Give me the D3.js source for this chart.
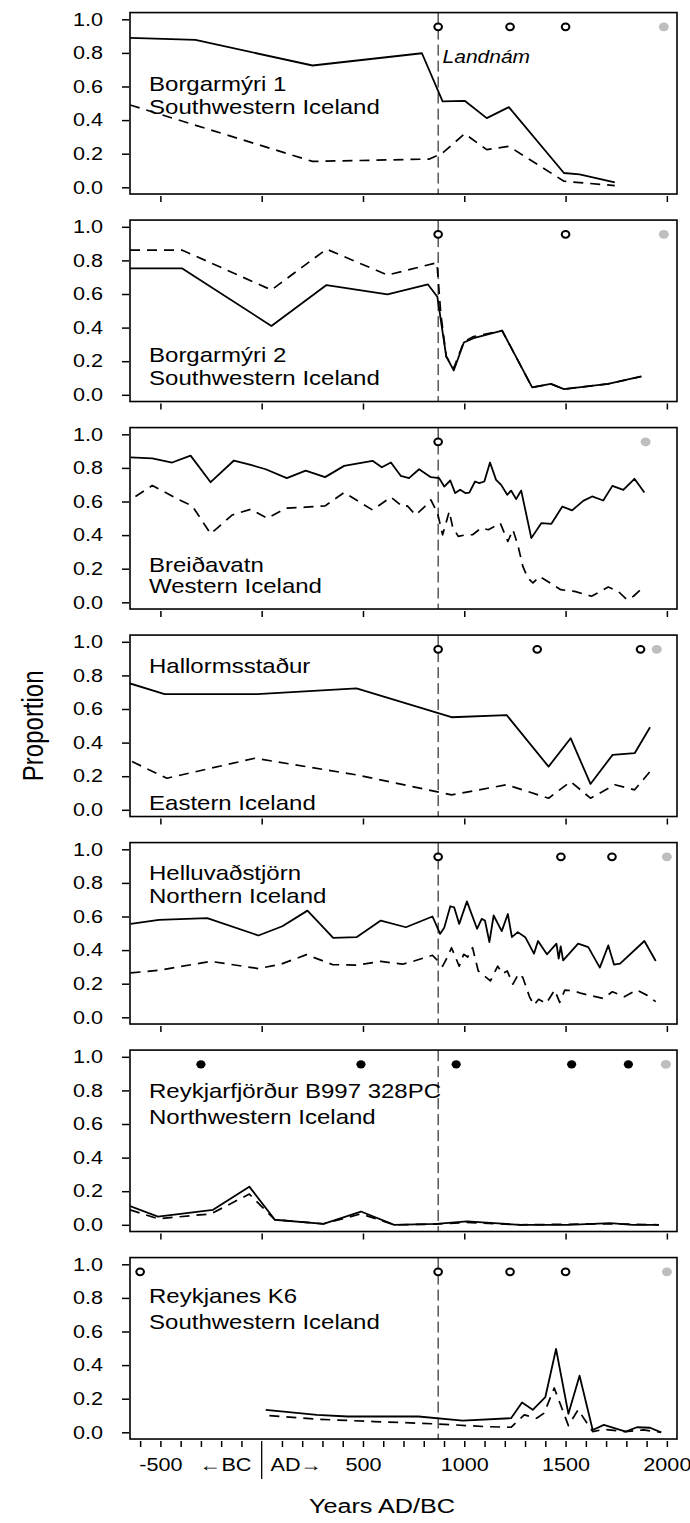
<!DOCTYPE html>
<html>
<head>
<meta charset="utf-8">
<script src="https://cdn.jsdelivr.net/npm/d3@7"></script>
<style>
  html, body { margin: 0; padding: 0; background: #ffffff; }
  svg text { font-family: "Liberation Sans", Arial, "DejaVu Sans", sans-serif; fill: #000; }
</style>
</head>
<body>
<svg id="chart" width="690" height="1523"></svg>
<script>
// ---------------- DATA ----------------
const yTicks = [0, 0.2, 0.4, 0.6, 0.8, 1.0];
const xMajorTicks = [-500, 0, 500, 1000, 1500, 2000];
const xLabelTicks = [-500, 500, 1000, 1500, 2000];
const landnamYear = 871;
const markerLevel = 0.955;

const siteNames = ["Borgarmýri 1", "Borgarmýri 2", "Breiðavatn", "Hallormsstaður",
                   "Helluvaðstjörn", "Reykjarfjörður B997 328PC", "Reykjanes K6"];
const siteRegions = ["Southwestern Iceland", "Southwestern Iceland", "Western Iceland",
                     "Eastern Iceland", "Northern Iceland", "Northwestern Iceland", "Southwestern Iceland"];

// Borgarmýri 1
const borg1SolidYears = [-650, -327, 251, 791, 893, 1002, 1111, 1220, 1492, 1569, 1743];
const borg1SolidValues = [0.89, 0.877, 0.725, 0.798, 0.511, 0.515, 0.412, 0.477, 0.085, 0.077, 0.03];
const borg1DashYears = [-650, 251, 828, 893, 1002, 1111, 1220, 1492, 1743];
const borg1DashValues = [0.49, 0.154, 0.168, 0.204, 0.319, 0.224, 0.244, 0.036, 0.01];

// Borgarmýri 2
const borg2SolidYears = [-650, -392, 48, 320, 621, 821, 867, 911, 948, 998, 1046, 1187, 1335, 1427, 1492, 1710, 1874];
const borg2SolidValues = [0.752, 0.752, 0.41, 0.653, 0.598, 0.657, 0.584, 0.228, 0.145, 0.311, 0.337, 0.382, 0.044, 0.065, 0.034, 0.065, 0.109];
const borg2DashYears = [-650, -392, 48, 320, 621, 865, 884, 911, 948, 998, 1046, 1187, 1335, 1427, 1492, 1710, 1874];
const borg2DashValues = [0.861, 0.861, 0.624, 0.867, 0.713, 0.786, 0.485, 0.228, 0.158, 0.317, 0.347, 0.382, 0.044, 0.065, 0.034, 0.065, 0.109];

// Breiðavatn
const breidSolidYears = [-647, -540, -442, -351, -252, -137, -54, 20, 124, 217, 313, 407, 547, 593, 638, 687,
  727, 777, 835, 876, 901, 931, 955, 980, 1005, 1025, 1053, 1074, 1099, 1127, 1157, 1182, 1212, 1231, 1256,
  1281, 1331, 1380, 1430, 1484, 1532, 1587, 1631, 1686, 1731, 1785, 1840, 1889];
const breidSolidValues = [0.863, 0.857, 0.832, 0.873, 0.715, 0.844, 0.818, 0.792, 0.739, 0.784, 0.745, 0.812,
  0.842, 0.804, 0.832, 0.752, 0.739, 0.792, 0.745, 0.739, 0.689, 0.725, 0.65, 0.67, 0.65, 0.653, 0.719, 0.709,
  0.719, 0.832, 0.729, 0.699, 0.64, 0.665, 0.614, 0.665, 0.382, 0.471, 0.467, 0.57, 0.547, 0.604, 0.63, 0.606,
  0.693, 0.669, 0.735, 0.653];
const breidDashYears = [-623, -540, -408, -343, -252, -145, -54, 28, 119, 217, 313, 407, 547, 638, 695, 719,
  760, 802, 835, 868, 893, 926, 942, 970, 1008, 1041, 1083, 1119, 1178, 1215, 1240, 1264, 1289, 1314, 1339,
  1372, 1430, 1476, 1545, 1628, 1711, 1760, 1802, 1835, 1889];
const breidDashValues = [0.63, 0.695, 0.61, 0.574, 0.408, 0.52, 0.554, 0.50, 0.56, 0.566, 0.574, 0.653, 0.55,
  0.626, 0.57, 0.574, 0.52, 0.566, 0.61, 0.531, 0.402, 0.541, 0.451, 0.392, 0.402, 0.402, 0.442, 0.432, 0.471,
  0.362, 0.432, 0.343, 0.214, 0.145, 0.115, 0.154, 0.111, 0.075, 0.065, 0.036, 0.091, 0.065, 0.016, 0.036, 0.095];

// Hallormsstaður
const hallSolidYears = [-650, -479, -22, 468, 937, 1209, 1416, 1525, 1623, 1732, 1841, 1917];
const hallSolidValues = [0.752, 0.689, 0.689, 0.723, 0.551, 0.564, 0.257, 0.426, 0.154, 0.327, 0.337, 0.491];
const hallDashYears = [-640, -468, -33, 468, 937, 1209, 1416, 1525, 1623, 1743, 1841, 1917];
const hallDashValues = [0.287, 0.188, 0.307, 0.208, 0.089, 0.149, 0.069, 0.168, 0.069, 0.149, 0.119, 0.228];

// Helluvaðstjörn
const hellSolidYears = [-647, -507, -269, -16, 102, 226, 353, 468, 588, 712, 843, 881, 901, 931, 950, 975,
  1013, 1063, 1086, 1102, 1124, 1145, 1185, 1215, 1235, 1264, 1301, 1344, 1364, 1408, 1455, 1466, 1476, 1488,
  1562, 1612, 1669, 1711, 1739, 1769, 1889, 1945];
const hellSolidValues = [0.556, 0.58, 0.59, 0.487, 0.542, 0.635, 0.473, 0.477, 0.576, 0.536, 0.60, 0.497,
  0.533, 0.661, 0.655, 0.556, 0.69, 0.527, 0.586, 0.576, 0.448, 0.606, 0.513, 0.615, 0.477, 0.507, 0.477,
  0.379, 0.454, 0.375, 0.438, 0.349, 0.422, 0.339, 0.438, 0.418, 0.296, 0.428, 0.314, 0.32, 0.454, 0.335];
const hellDashYears = [-647, -507, -252, -16, 94, 221, 349, 465, 588, 695, 752, 843, 871, 893, 917, 937, 975,
  997, 1017, 1041, 1069, 1129, 1165, 1190, 1212, 1240, 1268, 1289, 1322, 1344, 1367, 1405, 1446, 1471, 1496,
  1537, 1579, 1686, 1731, 1790, 1851, 1901, 1945];
const hellDashValues = [0.264, 0.28, 0.333, 0.29, 0.316, 0.373, 0.314, 0.31, 0.333, 0.316, 0.335, 0.369,
  0.335, 0.304, 0.359, 0.414, 0.304, 0.375, 0.359, 0.414, 0.276, 0.217, 0.304, 0.26, 0.276, 0.197, 0.26,
  0.237, 0.122, 0.073, 0.107, 0.083, 0.162, 0.089, 0.162, 0.158, 0.142, 0.112, 0.152, 0.122, 0.162, 0.132, 0.093];

// Reykjarfjörður B997 328PC
const reykfSolidYears = [-650, -512, -240, -61, 65, 305, 490, 654, 861, 1013, 1275, 1514, 1721, 1830, 1961];
const reykfSolidValues = [0.112, 0.049, 0.089, 0.227, 0.03, 0.006, 0.079, 0.0, 0.006, 0.02, 0.0, 0.0, 0.01, 0.0, 0.0];
const reykfDashYears = [-650, -512, -251, -61, 65, 305, 490, 654, 861, 1013, 1275, 1721, 1961];
const reykfDashValues = [0.089, 0.036, 0.065, 0.183, 0.03, 0.006, 0.065, 0.0, 0.004, 0.014, 0.0, 0.006, 0.0];

// Reykjanes K6
const reykSolidYears = [20, 272, 425, 774, 992, 1231, 1285, 1338, 1400, 1453, 1514, 1569, 1634, 1689, 1797, 1852, 1917, 1972];
const reykSolidValues = [0.134, 0.104, 0.094, 0.094, 0.07, 0.084, 0.177, 0.134, 0.209, 0.496, 0.11, 0.337, 0.014, 0.044, 0.004, 0.03, 0.027, 0.0];
const reykDashYears = [38, 272, 556, 861, 1100, 1231, 1296, 1357, 1394, 1444, 1514, 1562, 1634, 1689, 1797, 1884, 1972];
const reykDashValues = [0.099, 0.078, 0.064, 0.05, 0.034, 0.03, 0.104, 0.084, 0.114, 0.264, 0.04, 0.134, 0.004, 0.018, 0.004, 0.014, 0.0];

// Dated horizons (open = tephra, filled = other dates, gray = core top)
const openMarkers = [[871, 1226, 1500], [871, 1500], [871], [871, 1360, 1870], [871, 1477, 1729], [], [-600, 871, 1226, 1500]];
const filledMarkers = [[], [], [], [], [], [-300, 490, 960, 1530, 1810], []];
const grayMarkers = [[1985], [1985], [1895], [1950], [2000], [1995], [2000]];

// ---------------- LAYOUT ----------------
const SX = 1.2;                       // horizontal text stretch of the original figure
const X0 = 130, X1 = 677;
const UNIT = 168;
const TOP0 = 19.3 - 0.04 * UNIT, PITCH = 207.5, PH = 1.08 * UNIT;
const labelLevels = [[0.576, 0.438], [0.194, 0.059], [0.181, 0.056], [0.812, 0.0],
                     [0.818, 0.683], [0.755, 0.600], [0.771, 0.612]];

const solidSeries = [[borg1SolidYears, borg1SolidValues], [borg2SolidYears, borg2SolidValues],
  [breidSolidYears, breidSolidValues], [hallSolidYears, hallSolidValues], [hellSolidYears, hellSolidValues],
  [reykfSolidYears, reykfSolidValues], [reykSolidYears, reykSolidValues]];
const dashSeries = [[borg1DashYears, borg1DashValues], [borg2DashYears, borg2DashValues],
  [breidDashYears, breidDashValues], [hallDashYears, hallDashValues], [hellDashYears, hellDashValues],
  [reykfDashYears, reykfDashValues], [reykDashYears, reykDashValues]];

const svg = d3.select("#chart");
const x = d3.scaleLinear().domain([-650, 2050]).range([X0, X1]);

const nPanels = siteNames.length;
let lastBottom = 0;
for (let i = 0; i < nPanels; i++) {
  const top = TOP0 + PITCH * i, bottom = top + PH;
  lastBottom = bottom;
  const y = d3.scaleLinear().domain([-0.04, 1.04]).range([bottom, top]);
  const g = svg.append("g");

  const clipId = "clip" + i;
  g.append("clipPath").attr("id", clipId).append("rect")
    .attr("x", X0).attr("y", top).attr("width", X1 - X0).attr("height", PH);
  const inner = g.append("g").attr("clip-path", `url(#${clipId})`);

  // Landnám line
  inner.append("line")
    .attr("x1", x(landnamYear)).attr("x2", x(landnamYear))
    .attr("y1", top).attr("y2", bottom)
    .attr("stroke", "#000").attr("stroke-width", 1).attr("stroke-dasharray", "11,5");

  const line = d3.line().x(d => x(d[0])).y(d => y(d[1]));
  inner.append("path").datum(d3.zip(dashSeries[i][0], dashSeries[i][1]))
    .attr("d", line).attr("fill", "none").attr("stroke", "#000")
    .attr("stroke-width", 1.7).attr("stroke-dasharray", "10,7").attr("stroke-linejoin", "round");
  inner.append("path").datum(d3.zip(solidSeries[i][0], solidSeries[i][1]))
    .attr("d", line).attr("fill", "none").attr("stroke", "#000")
    .attr("stroke-width", 1.8).attr("stroke-linejoin", "round");

  // markers
  inner.selectAll(".open").data(openMarkers[i]).join("ellipse")
    .attr("cx", d => x(d)).attr("cy", y(markerLevel)).attr("rx", 3.8).attr("ry", 3.4)
    .attr("fill", "#fff").attr("stroke", "#000").attr("stroke-width", 2.1);
  inner.selectAll(".filled").data(filledMarkers[i]).join("ellipse")
    .attr("cx", d => x(d)).attr("cy", y(markerLevel)).attr("rx", 4.6).attr("ry", 4.2)
    .attr("fill", "#000");
  inner.selectAll(".gray").data(grayMarkers[i]).join("ellipse")
    .attr("cx", d => x(d)).attr("cy", y(markerLevel)).attr("rx", 5.0).attr("ry", 4.4)
    .attr("fill", "#bebebe");

  // frame
  g.append("rect").attr("x", X0).attr("y", top).attr("width", X1 - X0).attr("height", PH)
    .attr("fill", "none").attr("stroke", "#000").attr("stroke-width", 1.6);

  // y axis
  const ya = g.append("g").attr("transform", `translate(${X0 - 1},0)`)
    .call(d3.axisLeft(y).tickValues(yTicks).tickFormat(d3.format(".1f"))
      .tickSize(7).tickSizeOuter(0).tickPadding(19));
  ya.attr("font-family", null).attr("font-size", null);
  ya.select(".domain").remove();
  ya.selectAll(".tick line").attr("stroke", "#000").attr("stroke-width", 1.5);
  ya.selectAll(".tick text").attr("font-size", 18).attr("fill", "#000")
    .each(function () {
      const t = d3.select(this);
      t.attr("x", (+t.attr("x")) / SX).attr("transform", `scale(${SX},1)`);
    });

  // x axis
  const last = i === nPanels - 1;
  const xa = g.append("g").attr("transform", `translate(0,${bottom + 2})`)
    .call(d3.axisBottom(x)
      .tickValues(last ? d3.range(-600, 2001, 100).filter(v => v !== 0) : xMajorTicks)
      .tickFormat(d => (last && xLabelTicks.includes(d)) ? String(d) : "")
      .tickSize(6).tickSizeOuter(0).tickPadding(11));
  xa.attr("font-family", null).attr("font-size", null);
  xa.select(".domain").remove();
  xa.selectAll(".tick line").attr("stroke", "#000").attr("stroke-width", 1.5);
  xa.selectAll(".tick text").attr("font-size", 18).attr("fill", "#000")
    .attr("transform", `scale(${SX},1)`);

  if (last) {
    g.append("line").attr("x1", x(0)).attr("x2", x(0))
      .attr("y1", bottom + 2).attr("y2", bottom + 40)
      .attr("stroke", "#000").attr("stroke-width", 1.3);
    g.append("text").attr("transform", `translate(${x(-178)},${bottom + 32}) scale(${SX},1)`)
      .attr("text-anchor", "middle").attr("font-size", 18).text("\u2190BC");
    g.append("text").attr("transform", `translate(${x(171)},${bottom + 32}) scale(${SX},1)`)
      .attr("text-anchor", "middle").attr("font-size", 18).text("AD\u2192");
  }

  // site labels
  const lx = x(-556);
  g.append("text").attr("transform", `translate(${lx},${y(labelLevels[i][0])}) scale(${SX},1)`)
    .attr("font-size", 20).text(siteNames[i]);
  g.append("text").attr("transform", `translate(${lx},${y(labelLevels[i][1])}) scale(${SX},1)`)
    .attr("font-size", 20).text(siteRegions[i]);

  if (i === 0) {
    g.append("text").attr("transform", `translate(${x(893)},${y(0.739)}) scale(${SX},1)`)
      .attr("font-size", 17.5).attr("font-style", "italic").text("Landnám");
  }
}

// axis titles
svg.append("text").attr("transform", `translate(382,1513) scale(${SX},1)`)
  .attr("text-anchor", "middle").attr("font-size", 21).text("Years AD/BC");
svg.append("text").attr("transform", `translate(43,${(TOP0 + lastBottom) / 2}) rotate(-90) scale(1,${SX})`)
  .attr("text-anchor", "middle").attr("font-size", 24).text("Proportion");
</script>
</body>
</html>
